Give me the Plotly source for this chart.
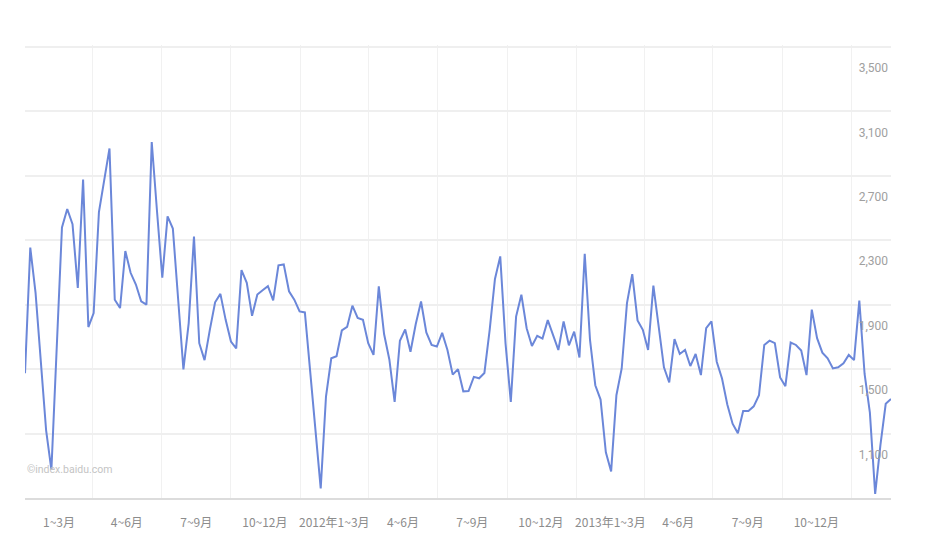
import plotly.graph_objects as go
import pandas as pd

# weekly Baidu index values, first week 2011-01-01
values = [
    1475, 2254, 1973, 1560, 1120, 875, 1630, 2379, 2494, 2400,
    2004, 2677, 1761, 1848, 2475, 2670, 2870, 1931, 1879, 2233,
    2098, 2025, 1921, 1900, 2910, 2480, 2067, 2448, 2373, 1935,
    1498, 1786, 2323, 1661, 1556, 1744, 1915, 1967, 1806, 1671,
    1629, 2115, 2036, 1831, 1963, 1990, 2015, 1927, 2144, 2150,
    1983, 1931, 1858, 1852, 1500, 1130, 760, 1330, 1567, 1580,
    1740, 1762, 1894, 1818, 1806, 1661, 1588, 2014, 1718, 1560,
    1297, 1676, 1746, 1608, 1780, 1920, 1728, 1650, 1640, 1725,
    1619, 1466, 1500, 1362, 1364, 1452, 1443, 1476, 1744, 2060,
    2200, 1660, 1297, 1826, 1962, 1754, 1644, 1707, 1690, 1804,
    1713, 1619, 1796, 1648, 1733, 1572, 2216, 1681, 1400, 1311,
    984, 865, 1338, 1504, 1910, 2090, 1802, 1744, 1619, 2019,
    1765, 1511, 1417, 1686, 1594, 1619, 1519, 1594, 1463, 1754,
    1796, 1546, 1442, 1281, 1161, 1102, 1240, 1240, 1269, 1338,
    1650, 1677, 1661, 1448, 1394, 1665, 1650, 1615, 1463, 1869,
    1692, 1602, 1567, 1504, 1511, 1536, 1588, 1556, 1925, 1470,
    1230, 725, 1030, 1285, 1315,
]
week_dates = pd.date_range("2011-01-01", periods=len(values), freq="7D")

quarter_starts = ["2011-01-01", "2011-04-01", "2011-07-01", "2011-10-01",
                  "2012-01-01", "2012-04-01", "2012-07-01", "2012-10-01",
                  "2013-01-01", "2013-04-01", "2013-07-01", "2013-10-01",
                  "2014-01-01"]
quarter_mids = ["2011-02-15", "2011-05-16", "2011-08-16", "2011-11-15",
                "2012-02-15", "2012-05-16", "2012-08-16", "2012-11-15",
                "2013-02-15", "2013-05-16", "2013-08-16", "2013-11-15"]
quarter_labels = ["1~3月", "4~6月", "7~9月", "10~12月",
                  "2012年1~3月", "4~6月", "7~9月", "10~12月",
                  "2013年1~3月", "4~6月", "7~9月", "10~12月"]
y_ticks = [1100, 1500, 1900, 2300, 2700, 3100, 3500]
y_labels = ["1,100", "1,500", "1,900", "2,300", "2,700", "3,100", "3,500"]

fig = go.Figure()
fig.add_trace(go.Scatter(
    x=week_dates, y=values, mode="lines",
    line=dict(color="#6b87d9", width=2),
    hoverinfo="x+y",
))

fig.update_layout(
    width=925, height=547,
    margin=dict(l=17, r=42, t=37, b=57, autoexpand=False),
    paper_bgcolor="white", plot_bgcolor="white",
    showlegend=False,
    font=dict(family="Noto Sans CJK SC, Liberation Sans Narrow, sans-serif", color="#999999"),
)

fig.update_xaxes(
    type="date",
    range=["2011-01-01", "2014-02-22"],
    tickmode="array", tickvals=quarter_mids, ticktext=quarter_labels,
    showgrid=False, ticks="",
    tickfont=dict(size=12, color="#8c8c8c",
                  family="Noto Sans CJK SC, sans-serif"),
    showline=True, linecolor="#dcdcdc", linewidth=2,
    zeroline=False,
    ticklabelstandoff=13,
    minor=dict(tickmode="array", tickvals=quarter_starts,
               showgrid=True, gridcolor="#f1f1f1", gridwidth=1, ticks=""),
)

fig.update_yaxes(
    range=[700, 3512],
    side="right",
    tickmode="array", tickvals=y_ticks, ticktext=y_labels,
    ticklabelposition="inside",
    ticklabeloverflow="allow",
    ticklabelshift=21,
    tickfont=dict(size=12, color="#a0a0a0",
                  family="Liberation Sans Narrow, Roboto, sans-serif"),
    showgrid=True, gridcolor="#efefef", gridwidth=2,
    zeroline=False, showline=False, ticks="",
)

fig.add_annotation(
    text="©index.baidu.com", xref="paper", yref="paper",
    x=0.0, y=0.062, xanchor="left", yanchor="middle",
    showarrow=False,
    font=dict(size=10.5, color="#c4c4c4",
              family="Liberation Sans Narrow, Roboto, sans-serif"),
)

fig.write_html("out.html")
